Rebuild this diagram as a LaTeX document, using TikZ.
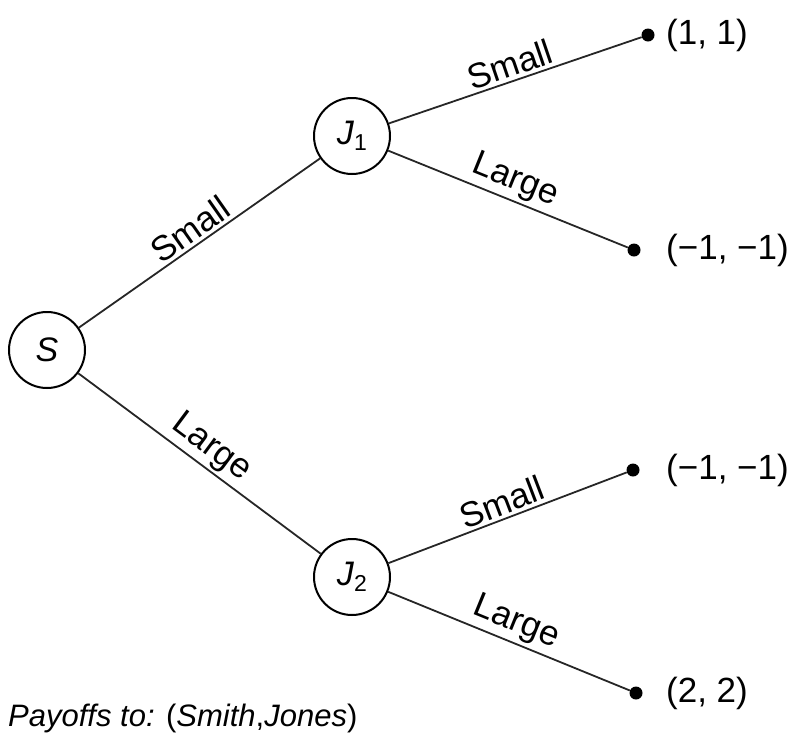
\documentclass[tikz,border=0pt]{standalone}
\usepackage{fontspec}
\setmainfont{Liberation Sans}
\begin{document}
\begin{tikzpicture}[x=1pt,y=-1pt,
  dec/.style={circle,draw,line width=2pt,minimum size=76pt,inner sep=0pt,font=\fontsize{34}{36}\selectfont},
  term/.style={circle,fill,inner sep=0pt,minimum size=13pt},
  pay/.style={anchor=west,font=\fontsize{35}{38}\selectfont,inner sep=0pt},
  edge/.style={line width=1.8pt,draw=black!85},
  lab/.style={font=\fontsize{35}{38}\selectfont,sloped,above,inner sep=3pt}]
\useasboundingbox (0,0) rectangle (796,740);
\node[dec] (S) at (47,350) {\textit{S}};
\node[dec] (J1) at (352,136) {\textit{J}\raisebox{-0.35ex}{\fontsize{23}{24}\selectfont 1}};
\node[dec] (J2) at (352,577) {\textit{J}\raisebox{-0.35ex}{\fontsize{23}{24}\selectfont 2}};
\node[term] (t1) at (648,35) {};
\node[term] (t2) at (634,250) {};
\node[term] (t3) at (633,470) {};
\node[term] (t4) at (636,693) {};
\node[pay] (p1) at (666,35) {(1, 1)};
\node[pay] (p2) at (666,250) {(−1, −1)};
\node[pay] (p3) at (666,470) {(−1, −1)};
\node[pay] (p4) at (666,693) {(2, 2)};
\draw[edge] (S) -- node[lab] {Small} (J1);
\draw[edge] (S) -- node[lab] {Large} (J2);
\draw[edge] (J1) -- node[lab] {Small} (t1);
\draw[edge] (J1) -- node[lab] {Large} (t2);
\draw[edge] (J2) -- node[lab] {Small} (t3);
\draw[edge] (J2) -- node[lab] {Large} (t4);
\node[anchor=west,inner sep=0pt,font=\fontsize{31}{36}\selectfont] (note) at (8,718) {\textit{Payoffs to:} (\textit{Smith},\textit{Jones})};
\end{tikzpicture}
\end{document}
